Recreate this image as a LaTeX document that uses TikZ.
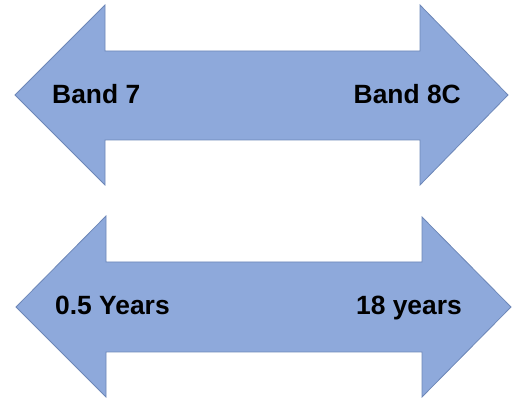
\documentclass[tikz,border=0pt]{standalone}
\usepackage{fontspec}
\setmainfont{Liberation Sans}
\definecolor{arrowfill}{HTML}{8EA9DB}
\definecolor{arrowline}{HTML}{6D87B8}
\begin{document}
\begin{tikzpicture}[x=1pt,y=-1pt,
  dblarrow/.style={fill=arrowfill,draw=arrowline,line width=0.8pt,line join=miter},
  lbl/.style={font=\fontsize{26.4}{30}\selectfont\bfseries,text=black,inner sep=0pt}]
\useasboundingbox (0,0) rectangle (512,398);
% top double arrow
\draw[dblarrow] (15,95) -- (105,5) -- (105,51) -- (420,51) -- (420,5) -- (508,95)
  -- (420,185) -- (420,140) -- (105,140) -- (105,185) -- cycle;
% bottom double arrow
\draw[dblarrow] (16,307) -- (106,216) -- (106,262) -- (422,262) -- (422,217) -- (511,307)
  -- (422,397) -- (422,352) -- (106,352) -- (106,397) -- cycle;
\node[lbl,anchor=base west] (b7) at (52,104) {Band 7};
\node[lbl,anchor=base east] (b8) at (461,104) {Band 8C};
\node[lbl,anchor=base west] (y05) at (55,315) {0.5 Years};
\node[lbl,anchor=base east] (y18) at (462,315) {18 years};
\end{tikzpicture}
\end{document}
